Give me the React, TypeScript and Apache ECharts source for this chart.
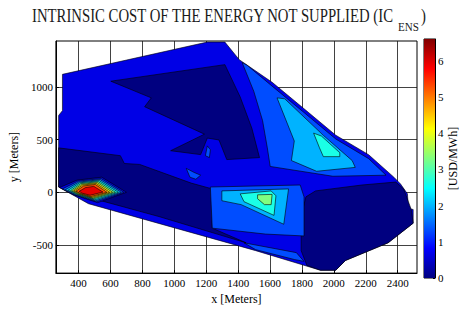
import React, { useEffect, useRef } from 'react';
import * as echarts from 'echarts';

// ---- axes ----
const xExtent = [258, 2521];
const yExtent = [-766, 1434];
const xTicks = [400, 600, 800, 1000, 1200, 1400, 1600, 1800, 2000, 2200, 2400];
const yTicks = [-500, 0, 500, 1000];
const colorbarMax = 6.6;
const levelStep = 0.66; // USD/MWh between contour levels
const jetStops = ['#000080', '#0000ff', '#0080ff', '#00ffff', '#80ff80', '#ffff00', '#ff8000', '#ff0000', '#800000'];

// ---- contour regions, [x, y] in meters ----
const domainHull = [
  [299, 1118], [1207, 1424], [1317, 1424], [1407, 1257], [1613, 1043], [1813, 792], [2012, 541],
  [2218, 356], [2376, 143], [2418, 78], [2461, -15], [2467, -154], [2497, -163], [2497, -293],
  [2340, -479], [2073, -646], [2012, -739], [1916, -739], [1510, -553], [462, -108], [275, 50],
  [275, 728], [299, 774],
];

// level 0 (below 0.66)
const zonesLevel0 = [
  [[602, 1053], [1317, 1210], [1413, 904], [1486, 607], [1534, 329], [1329, 310], [1280, 496],
   [1207, 514], [1165, 357], [977, 394], [1189, 551], [814, 811], [856, 895]],
  [[275, 421], [662, 347], [687, 273], [783, 264], [1106, 87], [1238, 32], [1238, -340],
   [1450, -479], [904, -230], [541, -80], [359, 4], [275, 50]],
  [[1885, 13], [2176, 69], [2388, 97], [2437, 32], [2467, -89], [2485, -163], [2497, -293],
   [2340, -479], [2073, -646], [2012, -739], [1916, -739], [1831, -693], [1795, -553],
   [1795, -229], [1825, -43]],
];

// level 1 islands drawn over level 0
const zonesLevel1 = [
  [[281, 45], [390, 115], [545, 143], [700, 0], [520, -98], [365, -22]],
];

const zonesLevel2 = [
  [[1425, 1230], [1456, 1205], [1613, 1006], [1813, 756], [2012, 505], [2218, 319], [2327, 162],
   [1994, 152], [1601, 245], [1583, 421], [1553, 681], [1498, 958]],
  [[1226, 50], [1789, 69], [1813, -43], [1813, -414], [1571, -396], [1238, -340]],
  [[1437, -479], [1765, -572], [1813, -655], [1752, -637], [1510, -544]],
  [[1207, 440], [1226, 403], [1220, 329], [1195, 347]],
  [[1075, 227], [1123, 189], [1165, 162], [1135, 124], [1098, 143]],
  [[299, 32], [396, 106], [541, 130], [684, 0], [514, -89], [372, -22]],
];

const zonesLevel3 = [
  [[1644, 895], [1692, 886], [1934, 540], [2115, 300], [2134, 236], [1892, 199], [1734, 301], [1752, 486]],
  [[1298, 13], [1716, 32], [1686, -303], [1419, -117], [1298, -80]],
  [[317, 25], [402, 97], [535, 120], [668, 0], [508, -80], [380, -20]],
];

const zonesLevel4 = [
  [[1873, 561], [1922, 533], [2037, 375], [2037, 338], [1934, 338], [1910, 421]],
  [[1413, -15], [1607, 13], [1637, -33], [1625, -219], [1437, -89]],
  [[335, 20], [408, 90], [529, 110], [650, 0], [502, -71], [386, -18]],
];

const zonesLevel5 = [
  [[1522, -24], [1613, -20], [1607, -117], [1565, -117], [1522, -61]],
  [[350, 17], [414, 83], [523, 101], [632, 0], [496, -62], [392, -16]],
];
const zonesLevel6 = [[[362, 15], [420, 76], [517, 92], [614, 0], [490, -55], [398, -14]]];
const zonesLevel7 = [[[372, 13], [426, 69], [511, 83], [596, 0], [484, -48], [404, -12]]];
const zonesLevel8 = [[[384, 11], [432, 60], [505, 74], [578, 0], [478, -40], [410, -10]]];
const zonesLevel9 = [[[404, 9], [444, 45], [496, 56], [553, 2], [472, -28], [422, -8]]];

const FONT = 'Liberation Serif';

export default function App() {
  const ref = useRef<HTMLDivElement>(null);
  useEffect(() => {
    document.body.style.margin = '0';
    const chart = echarts.init(ref.current!, null, { renderer: 'svg' });

    const zones: { level: number; pts: number[][] }[] = [];
    const add = (level: number, list: number[][][]) => list.forEach((pts) => zones.push({ level, pts }));
    add(1, [domainHull]);
    add(0, zonesLevel0);
    add(1, zonesLevel1);
    add(2, zonesLevel2);
    add(3, zonesLevel3);
    add(4, zonesLevel4);
    add(5, zonesLevel5);
    add(6, zonesLevel6);
    add(7, zonesLevel7);
    add(8, zonesLevel8);
    add(9, zonesLevel9);

    const labelStyle = { fontFamily: FONT, fontSize: 11, color: '#000' };
    const plain = (v: number) => String(v);

    chart.setOption({
      animation: false,
      backgroundColor: '#fff',
      grid: [
        { left: 43, right: 48, top: 41, bottom: 32, show: true, borderColor: '#000', borderWidth: 1 },
        { left: 424, width: 11, top: 39, height: 239, show: true, borderColor: '#000', borderWidth: 1 },
      ],
      xAxis: [
        {
          type: 'value', gridIndex: 0, min: xExtent[0], max: xExtent[1],
          axisLine: { show: true, onZero: false, lineStyle: { color: '#000' } },
          axisTick: { show: true, inside: true, length: 3, customValues: xTicks, lineStyle: { color: '#000' } },
          axisLabel: { customValues: xTicks, margin: 4, formatter: plain, ...labelStyle },
          splitLine: { show: true, lineStyle: { color: '#111', width: 0.8 } },
          name: 'x [Meters]', nameLocation: 'middle', nameGap: 18,
          nameTextStyle: { ...labelStyle, fontSize: 12 },
        },
        { type: 'category', gridIndex: 1, data: [''], show: false },
      ],
      yAxis: [
        {
          type: 'value', gridIndex: 0, min: yExtent[0], max: yExtent[1],
          axisLine: { show: true, onZero: false, lineStyle: { color: '#000' } },
          axisTick: { show: true, inside: true, length: 3, customValues: yTicks, lineStyle: { color: '#000' } },
          axisLabel: { customValues: yTicks, margin: 3, formatter: plain, ...labelStyle },
          splitLine: { show: true, lineStyle: { color: '#111', width: 0.8 } },
          name: 'y [Meters]', nameLocation: 'middle', nameGap: 29,
          nameTextStyle: { ...labelStyle, fontSize: 12 },
        },
        {
          type: 'value', gridIndex: 1, min: 0, max: colorbarMax, interval: 1, position: 'right',
          axisLine: { show: true, onZero: false, lineStyle: { color: '#000' } },
          axisTick: { show: true, inside: true, length: 2, lineStyle: { color: '#000' } },
          axisLabel: { margin: 3, showMaxLabel: false, formatter: plain, ...labelStyle },
          splitLine: { show: false },
          name: '[USD/MWh]', nameLocation: 'middle', nameGap: 12, nameRotate: 90,
          nameTextStyle: { ...labelStyle, fontSize: 12 },
        },
      ],
      visualMap: {
        show: false, type: 'continuous', min: 0, max: colorbarMax, dimension: 0, seriesIndex: 0,
        inRange: { color: jetStops },
      },
      graphic: [
        { type: 'text', x: 32, y: 15.5, scaleX: 0.82, style: { text: 'INTRINSIC COST OF THE ENERGY NOT SUPPLIED (IC', fontFamily: FONT, fontSize: 18, fill: '#1a1a1a', align: 'left', verticalAlign: 'middle' } },
        { type: 'text', x: 398, y: 26.5, scaleX: 0.82, style: { text: 'ENS', fontFamily: FONT, fontSize: 13.5, fill: '#1a1a1a', align: 'left', verticalAlign: 'middle' } },
        { type: 'text', x: 421, y: 15.5, scaleX: 0.82, style: { text: ')', fontFamily: FONT, fontSize: 18, fill: '#1a1a1a', align: 'left', verticalAlign: 'middle' } },
      ],
      series: [
        {
          type: 'custom',
          coordinateSystem: 'cartesian2d',
          xAxisIndex: 0, yAxisIndex: 0,
          clip: true,
          silent: true,
          data: zones.map((z, i) => [z.level * levelStep, i]),
          renderItem: (params: any, api: any) => {
            const z = zones[params.dataIndex];
            return {
              type: 'polygon',
              shape: { points: z.pts.map((p) => api.coord(p)) },
              style: { fill: api.visual('color'), stroke: '#000', lineWidth: 0.6 },
            };
          },
        },
        {
          type: 'bar', xAxisIndex: 1, yAxisIndex: 1, data: [colorbarMax], barWidth: '100%', silent: true,
          itemStyle: {
            color: new echarts.graphic.LinearGradient(0, 1, 0, 0,
              jetStops.map((c, i) => ({ offset: i / (jetStops.length - 1), color: c }))),
          },
        },
      ],
    });
    return () => chart.dispose();
  }, []);
  return <div ref={ref} style={{ width: 465, height: 310, background: '#fff' }} />;
}
